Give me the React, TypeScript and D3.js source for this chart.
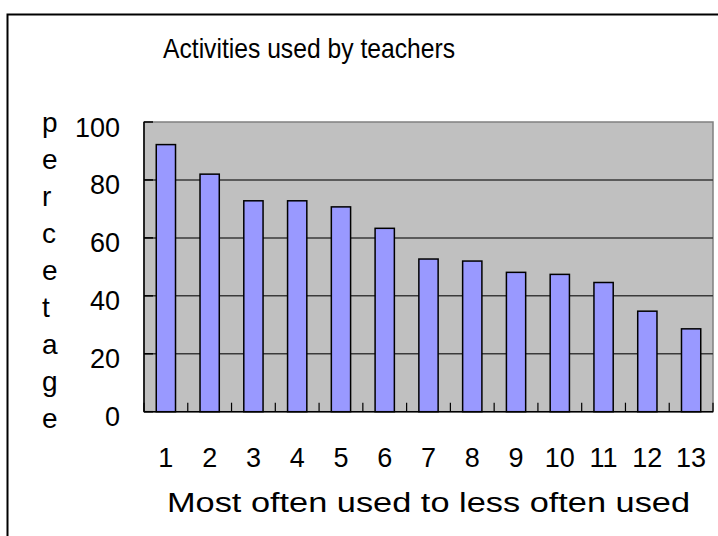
import React from 'react';
import * as d3 from 'd3';

const TITLE = 'Activities used by teachers';
const X_TITLE = 'Most often used to less often used';
const Y_TITLE = 'percetage';
const CATEGORIES = ['1', '2', '3', '4', '5', '6', '7', '8', '9', '10', '11', '12', '13'];
const VALUES = [92.2, 82, 72.8, 72.8, 70.7, 63.3, 52.7, 52, 48.1, 47.4, 44.6, 34.7, 28.6];
const Y_TICKS = [0, 20, 40, 60, 80, 100];

const W = 718;
const H = 536;
const plot = { left: 144, right: 713, top: 122, bottom: 411.7 };
const FONT = '"Liberation Sans", Arial, sans-serif';

const App = () => {
    const x = d3.scaleBand<string>()
        .domain(CATEGORIES)
        .range([plot.left, plot.right])
        .paddingInner(0.56)
        .paddingOuter(0.28);
    const y = d3.scaleLinear().domain([0, 100]).range([plot.bottom, plot.top]);
    const step = x.step();
    // category boundaries for the small inward ticks
    const bounds = d3.range(CATEGORIES.length + 1).map(i => plot.left + i * step);

    return (
        <svg width={W} height={H} style={{ position: 'absolute', left: 0, top: 0 }} fontFamily={FONT}>
            <rect x={0} y={0} width={W} height={H} fill="#fff" />
            {/* outer chart border */}
            <rect x={7.5} y={14.5} width={W + 10} height={H + 10} fill="none" stroke="#000" strokeWidth={2} />

            <text x={163} y={57.5} fontSize={28} textLength={292} lengthAdjust="spacingAndGlyphs">{TITLE}</text>

            {/* plot area */}
            <rect x={plot.left} y={plot.top} width={plot.right - plot.left} height={plot.bottom - plot.top}
                fill="#c0c0c0" stroke="#808080" strokeWidth={1.5} />

            {Y_TICKS.filter(t => t > 0 && t < 100).map(t => (
                <line key={'g' + t} x1={plot.left} x2={plot.right} y1={y(t)} y2={y(t)} stroke="#3a3a3a" strokeWidth={1.5} />
            ))}

            {CATEGORIES.map((c, i) => (
                <rect key={c} x={x(c)} y={y(VALUES[i])} width={x.bandwidth()} height={y(0) - y(VALUES[i])}
                    fill="#9999ff" stroke="#000" strokeWidth={1.5} />
            ))}

            {/* axes */}
            <line x1={plot.left} x2={plot.left} y1={plot.top} y2={plot.bottom} stroke="#000" strokeWidth={1.5} />
            <line x1={plot.left} x2={plot.right} y1={plot.bottom} y2={plot.bottom} stroke="#000" strokeWidth={1.5} />
            {Y_TICKS.map(t => (
                <line key={'yt' + t} x1={plot.left} x2={plot.left + 9} y1={y(t)} y2={y(t)} stroke="#000" strokeWidth={1.5} />
            ))}
            {bounds.map((b, i) => (
                <line key={'xt' + i} x1={b} x2={b} y1={plot.bottom} y2={plot.bottom - 9} stroke="#000" strokeWidth={1.2} />
            ))}

            {Y_TICKS.map(t => (
                <text key={'yl' + t} x={120} y={y(t) + 14.5} fontSize={27} textAnchor="end">{t}</text>
            ))}
            {CATEGORIES.map(c => (
                <text key={'xl' + c} x={(x(c) ?? 0) + x.bandwidth() / 2} y={466.5} fontSize={27} textAnchor="middle">{c}</text>
            ))}

            <text x={167} y={511.5} fontSize={27} textLength={523} lengthAdjust="spacingAndGlyphs">{X_TITLE}</text>

            {Y_TITLE.split('').map((ch, i) => (
                <text key={'ytl' + i} x={42} y={131.7 + i * 37} fontSize={28}>{ch}</text>
            ))}
        </svg>
    );
};

export default App;
